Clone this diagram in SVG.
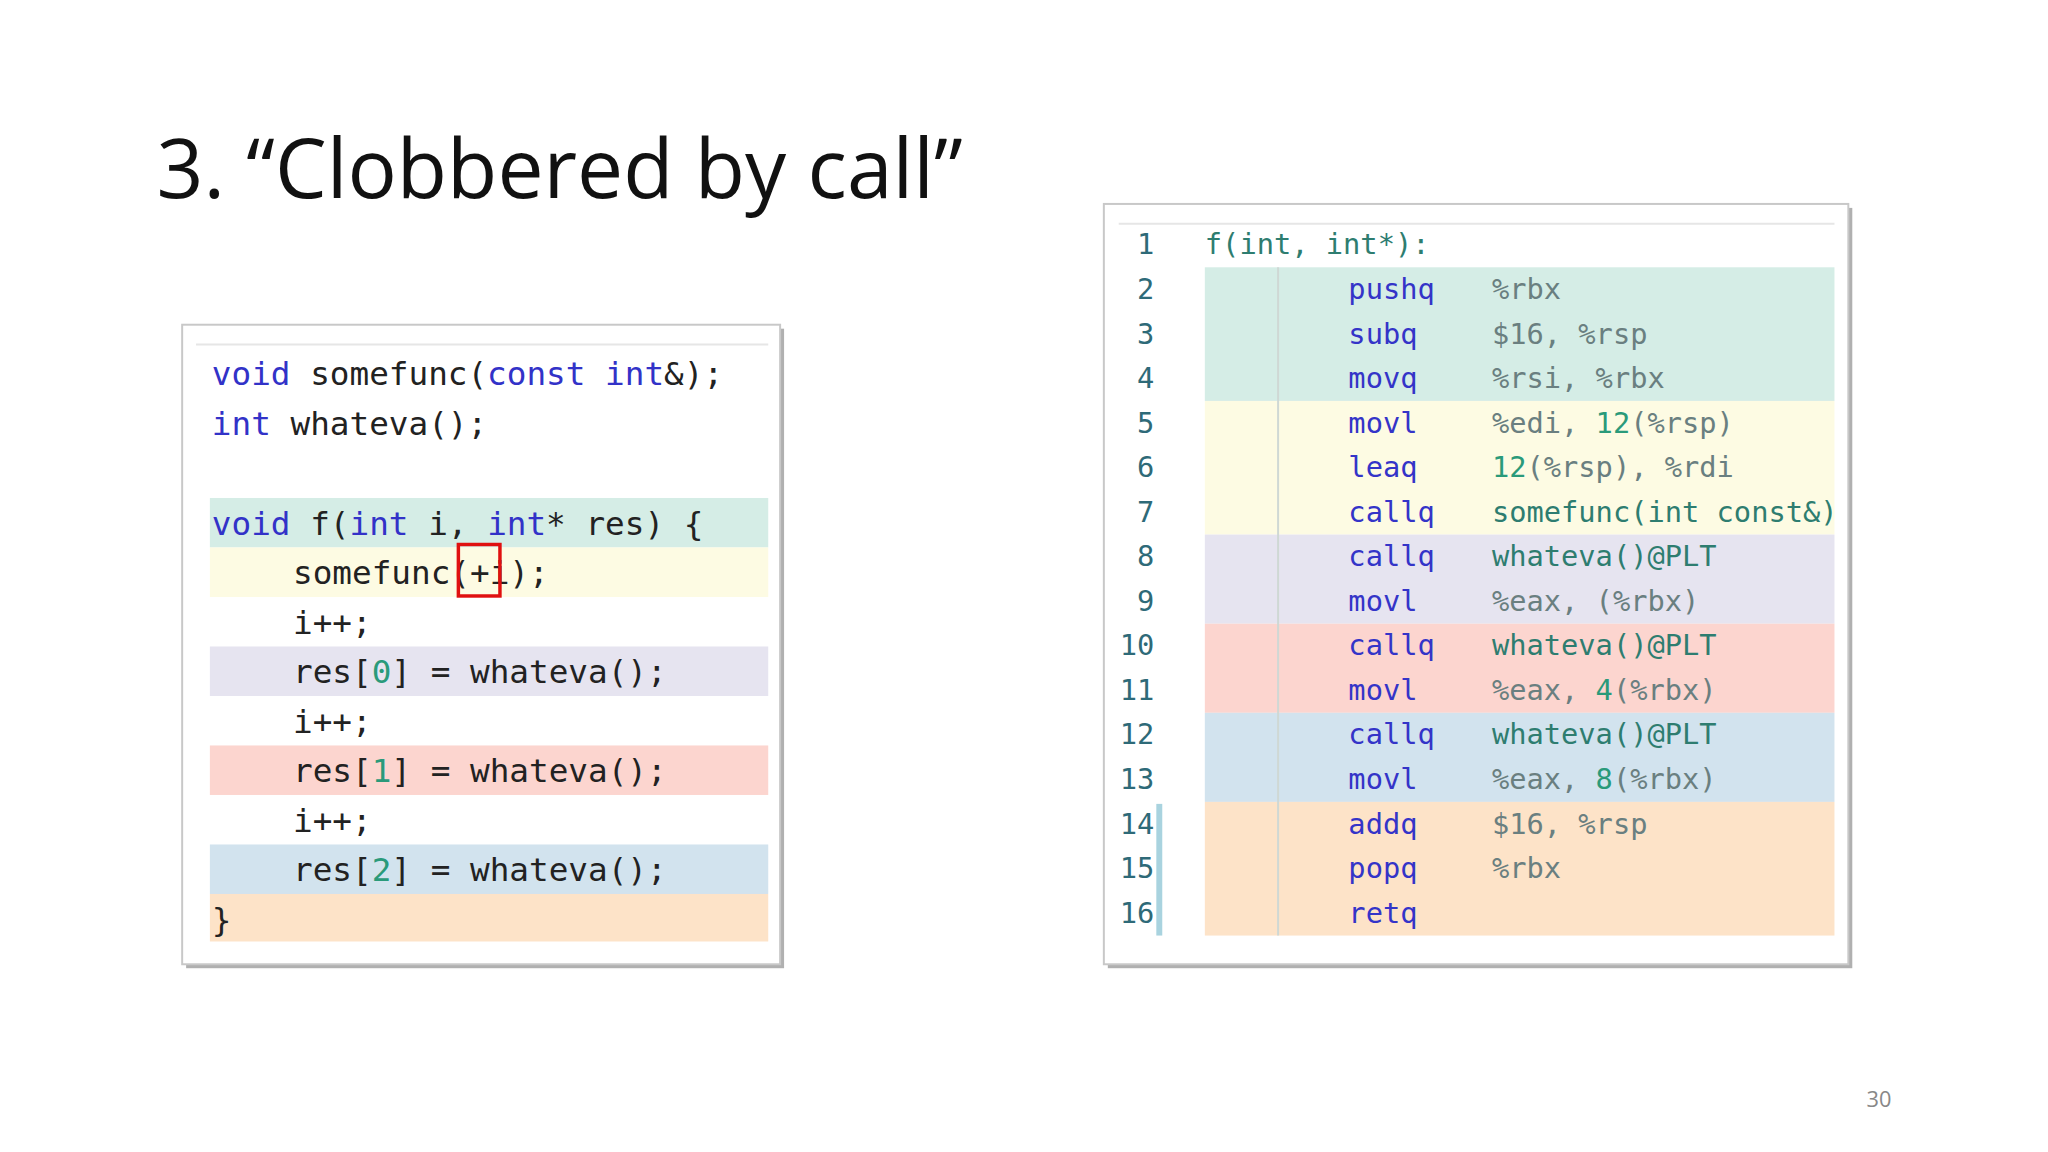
<svg xmlns="http://www.w3.org/2000/svg" width="2048" height="1152" viewBox="0 0 2048 1152">
<style>
.m{font-family:"DejaVu Sans Mono","Liberation Mono",monospace;}
.l{font-size:33px;fill:#222}
.r{font-size:29px}
.kw{fill:#3232c8}
.num{fill:#2a9a7a}
.mn{fill:#3434c8}
.op{fill:#6a7f80}
.nm{fill:#2e7d70}
.ln{fill:#2e6a78;font-size:29px;text-anchor:end}
.box{fill:#fff;stroke:#c8c8c8;stroke-width:2}
.sh{fill:#b0b0b0}
</style>
<defs><clipPath id="rc"><rect x="1115" y="206" width="736" height="768"/></clipPath></defs>
<rect width="2048" height="1152" fill="#fff"/>
<g transform="scale(0.99)">
<text x="158" y="200" font-family="Open Sans, Liberation Sans, sans-serif" font-size="83" fill="#111">3. “Clobbered by call”</text>
<g id="left">
<rect class="sh" x="188" y="332" width="604" height="646"/>
<rect class="box" x="184" y="328" width="604" height="646"/>
<line x1="198" y1="348" x2="776" y2="348" stroke="#e6e6e6" stroke-width="2"/>
<rect x="212" y="503" width="564" height="50" fill="#d5ede6"/>
<rect x="212" y="553" width="564" height="50" fill="#fdfbe3"/>
<rect x="212" y="653" width="564" height="50" fill="#e6e4f0"/>
<rect x="212" y="753" width="564" height="50" fill="#fcd5cf"/>
<rect x="212" y="853" width="564" height="50" fill="#d2e3ee"/>
<rect x="212" y="903" width="564" height="48" fill="#fde3c8"/>
<g class="m l">
<text x="214" y="389"><tspan class="kw">void</tspan> somefunc(<tspan class="kw">const</tspan> <tspan class="kw">int</tspan>&amp;);</text>
<text x="214" y="439"><tspan class="kw">int</tspan> whateva();</text>
<text x="214" y="540"><tspan class="kw">void</tspan> f(<tspan class="kw">int</tspan> i, <tspan class="kw">int</tspan>* res) {</text>
<text x="296" y="590">somefunc(+i);</text>
<text x="296" y="640">i++;</text>
<text x="296" y="690">res[<tspan class="num">0</tspan>] = whateva();</text>
<text x="296" y="740">i++;</text>
<text x="296" y="790">res[<tspan class="num">1</tspan>] = whateva();</text>
<text x="296" y="840">i++;</text>
<text x="296" y="890">res[<tspan class="num">2</tspan>] = whateva();</text>
<text x="214" y="940">}</text>
</g>
<rect x="463" y="550" width="42" height="52" fill="none" stroke="#e01010" stroke-width="3.5"/>
</g>
<g id="right">
<rect class="sh" x="1119" y="210" width="752" height="768"/>
<rect class="box" x="1115" y="206" width="752" height="768"/>
<line x1="1130" y1="226" x2="1853" y2="226" stroke="#e6e6e6" stroke-width="2"/>
<rect x="1217" y="270" width="636" height="135" fill="#d5ede6"/>
<rect x="1217" y="405" width="636" height="135" fill="#fdfbe3"/>
<rect x="1217" y="540" width="636" height="90" fill="#e6e4f0"/>
<rect x="1217" y="630" width="636" height="90" fill="#fcd5cf"/>
<rect x="1217" y="720" width="636" height="90" fill="#d2e3ee"/>
<rect x="1217" y="810" width="636" height="135" fill="#fde3c8"/>
<line x1="1291" y1="270" x2="1291" y2="945" stroke="#cfd8d4" stroke-width="2"/>
<rect x="1168" y="812" width="6" height="133" fill="#a9d3df"/>
<g class="m">
<text class="ln" x="1166" y="257">1</text><text class="ln" x="1166" y="302">2</text><text class="ln" x="1166" y="347">3</text><text class="ln" x="1166" y="392">4</text>
<text class="ln" x="1166" y="437">5</text><text class="ln" x="1166" y="482">6</text><text class="ln" x="1166" y="527">7</text><text class="ln" x="1166" y="572">8</text>
<text class="ln" x="1166" y="617">9</text><text class="ln" x="1166" y="662">10</text><text class="ln" x="1166" y="707">11</text><text class="ln" x="1166" y="752">12</text>
<text class="ln" x="1166" y="797">13</text><text class="ln" x="1166" y="842">14</text><text class="ln" x="1166" y="887">15</text><text class="ln" x="1166" y="932">16</text>
</g>
<g class="m r" clip-path="url(#rc)">
<text x="1217" y="257" class="nm">f(int, int*):</text>
<text x="1362" y="302" class="mn">pushq</text><text x="1507" y="302" class="op">%rbx</text>
<text x="1362" y="347" class="mn">subq</text><text x="1507" y="347" class="op">$16, %rsp</text>
<text x="1362" y="392" class="mn">movq</text><text x="1507" y="392" class="op">%rsi, %rbx</text>
<text x="1362" y="437" class="mn">movl</text><text x="1507" y="437" class="op">%edi, <tspan class="num">12</tspan>(%rsp)</text>
<text x="1362" y="482" class="mn">leaq</text><text x="1507" y="482" class="op"><tspan class="num">12</tspan>(%rsp), %rdi</text>
<text x="1362" y="527" class="mn">callq</text><text x="1507" y="527" class="nm">somefunc(int const&amp;)</text>
<text x="1362" y="572" class="mn">callq</text><text x="1507" y="572" class="nm">whateva()@PLT</text>
<text x="1362" y="617" class="mn">movl</text><text x="1507" y="617" class="op">%eax, (%rbx)</text>
<text x="1362" y="662" class="mn">callq</text><text x="1507" y="662" class="nm">whateva()@PLT</text>
<text x="1362" y="707" class="mn">movl</text><text x="1507" y="707" class="op">%eax, <tspan class="num">4</tspan>(%rbx)</text>
<text x="1362" y="752" class="mn">callq</text><text x="1507" y="752" class="nm">whateva()@PLT</text>
<text x="1362" y="797" class="mn">movl</text><text x="1507" y="797" class="op">%eax, <tspan class="num">8</tspan>(%rbx)</text>
<text x="1362" y="842" class="mn">addq</text><text x="1507" y="842" class="op">$16, %rsp</text>
<text x="1362" y="887" class="mn">popq</text><text x="1507" y="887" class="op">%rbx</text>
<text x="1362" y="932" class="mn">retq</text>
</g>
</g>
<text x="1898" y="1118" font-family="Open Sans, Liberation Sans, sans-serif" font-size="22" fill="#888" text-anchor="middle">30</text>
</g>
</svg>
